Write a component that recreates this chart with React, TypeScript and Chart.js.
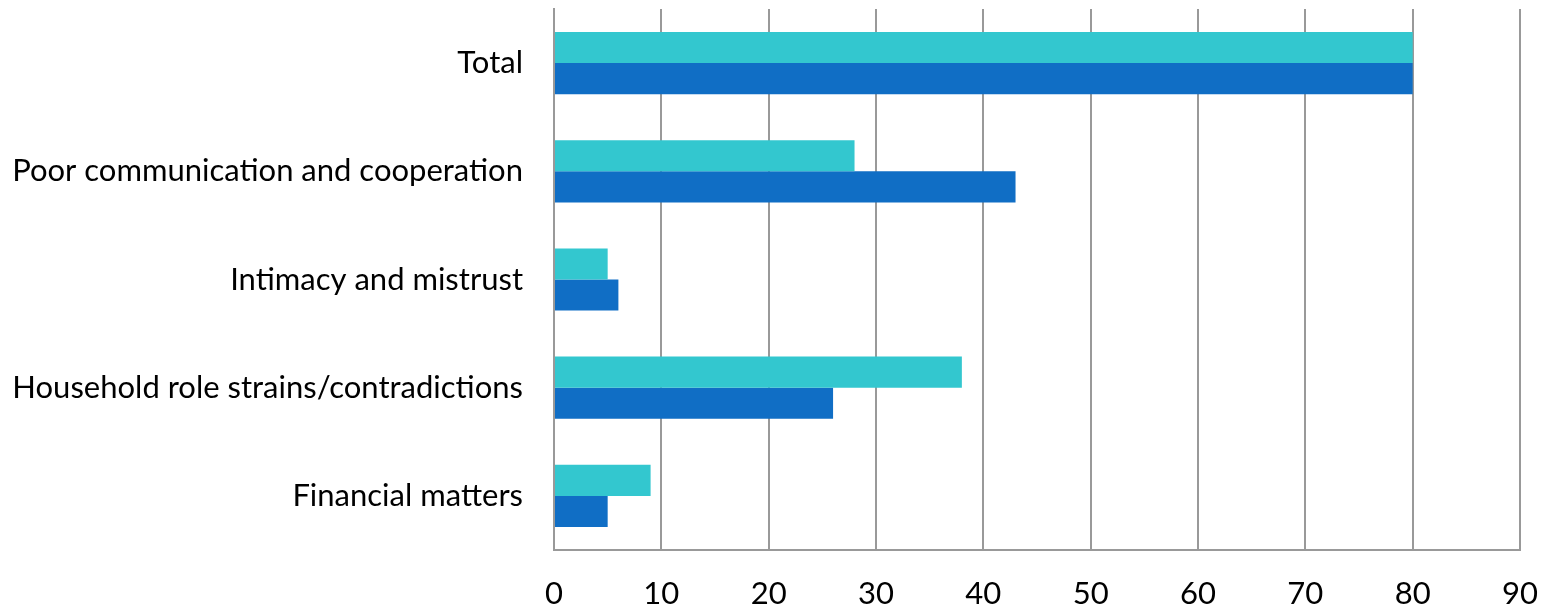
import React, { useEffect, useRef } from "react";
import { Chart, registerables } from "chart.js";

Chart.register(...registerables);

const categories = [
  "Total",
  "Poor communication and cooperation",
  "Intimacy and mistrust",
  "Household role strains/contradictions",
  "Financial matters",
];
const seriesA = [80, 28, 5, 38, 9];
const seriesB = [80, 43, 6, 26, 5];
const xTicks = [0, 10, 20, 30, 40, 50, 60, 70, 80, 90];

export default function App() {
  const ref = useRef<HTMLCanvasElement | null>(null);

  useEffect(() => {
    document.body.style.margin = "0";
    const canvas = ref.current;
    if (!canvas) return;
    const font = { family: "Lato, 'Open Sans', sans-serif", size: 31 };
    const chart = new Chart(canvas, {
      type: "bar",
      data: {
        labels: categories,
        datasets: [
          {
            label: "A",
            data: seriesA,
            backgroundColor: "#33C7CF",
            borderWidth: 0,
            barPercentage: 1,
            categoryPercentage: 0.575,
          },
          {
            label: "B",
            data: seriesB,
            backgroundColor: "#106EC5",
            borderWidth: 0,
            barPercentage: 1,
            categoryPercentage: 0.575,
          },
        ],
      },
      options: {
        indexAxis: "y",
        responsive: false,
        animation: false,
        layout: { padding: { top: 9, right: 35, left: 0, bottom: 0 } },
        plugins: { legend: { display: false }, tooltip: { enabled: false } },
        scales: {
          x: {
            min: 0,
            max: 90,
            afterBuildTicks: (scale: any) => {
              scale.ticks = xTicks.map((v) => ({ value: v }));
            },
            afterFit: (scale: any) => {
              scale.height = 57;
              scale.paddingLeft = 0;
              scale.paddingRight = 0;
            },
            grid: { color: "#999999", lineWidth: 2, drawTicks: false },
            border: { display: true, color: "#999999", width: 2 },
            ticks: { color: "#000", font, padding: 25 },
          },
          y: {
            afterFit: (scale: any) => {
              scale.width = 554;
              scale.paddingTop = 0;
              scale.paddingBottom = 0;
            },
            grid: { display: false, drawTicks: false },
            border: { display: true, color: "#999999", width: 2 },
            ticks: { color: "#000", font, padding: 31 },
          },
        },
      },
    });
    return () => chart.destroy();
  }, []);

  return (
    <div style={{ position: "absolute", left: 0, top: 0, width: 1555, height: 607 }}>
      <canvas ref={ref} width={1555} height={607} />
    </div>
  );
}
